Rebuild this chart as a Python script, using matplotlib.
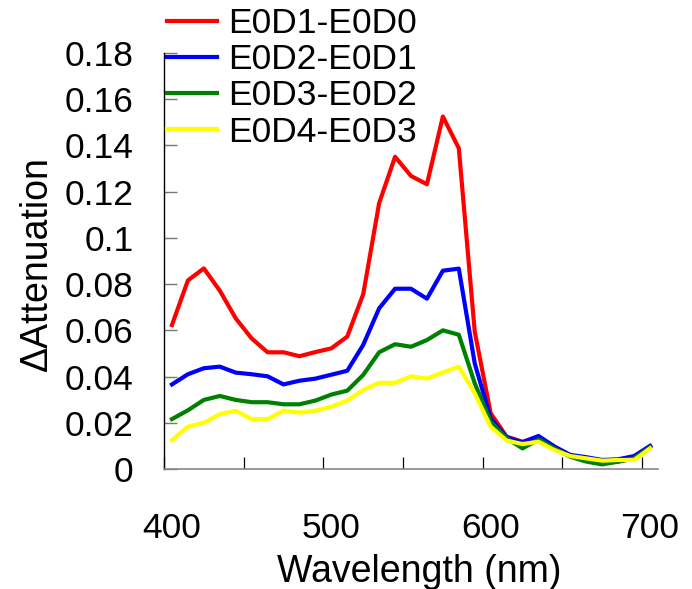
import matplotlib
matplotlib.use("Agg")
import matplotlib.pyplot as plt
from matplotlib.ticker import FixedLocator, FuncFormatter

plt.rcParams['font.family'] = ['Liberation Sans', 'DejaVu Sans']

wavelength = list(range(400, 701, 10))

e0d1_e0d0 = [0.0623, 0.0816, 0.0868, 0.0772, 0.0652, 0.0565, 0.0505, 0.0505, 0.0488, 0.0506,
             0.0522, 0.0573, 0.0756, 0.1150, 0.1351, 0.1268, 0.1232, 0.1525, 0.1388, 0.0594,
             0.0241, 0.0140, 0.0118, 0.0140, 0.0097, 0.0056, 0.0046, 0.0025, 0.0032, 0.0046,
             0.0097]
e0d2_e0d1 = [0.0366, 0.0410, 0.0436, 0.0443, 0.0417, 0.0410, 0.0401, 0.0366, 0.0382, 0.0391,
             0.0408, 0.0425, 0.0537, 0.0695, 0.0780, 0.0780, 0.0737, 0.0858, 0.0867, 0.0457,
             0.0219, 0.0137, 0.0115, 0.0143, 0.0097, 0.0061, 0.0051, 0.0039, 0.0042, 0.0056,
             0.0100]
e0d3_e0d2 = [0.0216, 0.0254, 0.0299, 0.0316, 0.0299, 0.0289, 0.0289, 0.0280, 0.0280, 0.0296,
             0.0322, 0.0339, 0.0407, 0.0505, 0.0540, 0.0529, 0.0558, 0.0600, 0.0581, 0.0371,
             0.0205, 0.0133, 0.0089, 0.0128, 0.0089, 0.0053, 0.0032, 0.0020, 0.0032, 0.0046,
             0.0094]
e0d4_e0d3 = [0.0125, 0.0183, 0.0200, 0.0237, 0.0252, 0.0216, 0.0216, 0.0252, 0.0244, 0.0252,
             0.0270, 0.0296, 0.0342, 0.0373, 0.0373, 0.0401, 0.0391, 0.0418, 0.0443, 0.0327,
             0.0183, 0.0123, 0.0108, 0.0118, 0.0082, 0.0056, 0.0046, 0.0036, 0.0039, 0.0039,
             0.0089]

series_labels = ["E0D1-E0D0", "E0D2-E0D1", "E0D3-E0D2", "E0D4-E0D3"]
series_colors = ["#ff0000", "#0000ff", "#008000", "#ffff00"]

x_tick_labels = [400, 500, 600, 700]
x_tick_marks = [395, 445, 495, 545, 595, 645, 695]
y_ticks = [0, 0.02, 0.04, 0.06, 0.08, 0.10, 0.12, 0.14, 0.16, 0.18]

fig = plt.figure(figsize=(6.92, 5.89), dpi=100)
ax = fig.add_axes([164 / 692, 1 - 469 / 589, 494 / 692, 416 / 589])

for vals, lab, col in zip([e0d1_e0d0, e0d2_e0d1, e0d3_e0d2, e0d4_e0d3],
                          series_labels, series_colors):
    ax.plot(wavelength, vals, color=col, lw=3.0, label=lab)

ax.set_xlim(395, 705)
ax.set_ylim(0, 0.18)

ax.spines['top'].set_visible(False)
ax.spines['right'].set_visible(False)
ax.spines['left'].set_color('black')
ax.spines['left'].set_linewidth(1.0)
ax.spines['bottom'].set_color('#888888')
ax.spines['bottom'].set_linewidth(1.2)

# labelled positions carry no mark; the marks sit on their own grid
ax.xaxis.set_major_locator(FixedLocator(x_tick_labels))
ax.xaxis.set_minor_locator(FixedLocator(x_tick_marks))
ax.tick_params(axis='x', which='major', length=0, pad=31, labelsize=25.5)
ax.tick_params(axis='x', which='minor', direction='in', length=8.6,
               width=0.9, color='black')

ax.yaxis.set_major_locator(FixedLocator(y_ticks))
ax.yaxis.set_major_formatter(FuncFormatter(lambda v, p: f"{v:g}"))
ax.tick_params(axis='y', which='major', direction='in', length=9.2,
               width=1.0, color='#777777', pad=22, labelsize=25.5)

ax.set_xlabel("Wavelength (nm)", fontsize=27)
ax.xaxis.set_label_coords(0.516, -0.204)
ax.set_ylabel("ΔAttenuation", fontsize=27)
ax.yaxis.set_label_coords(-0.2215, 0.494)

fig.legend(loc='upper left', bbox_to_anchor=(167 / 692, 1 - 7 / 589),
           frameon=False, fontsize=25.5, handlelength=1.41, handletextpad=0.31,
           labelspacing=0.09, borderpad=0, borderaxespad=0)

fig.savefig("out.png", dpi=100)
